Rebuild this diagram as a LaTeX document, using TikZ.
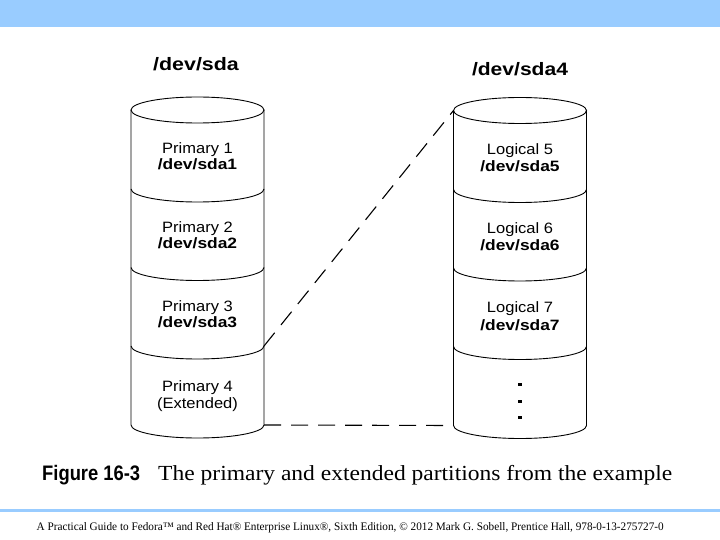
\documentclass[tikz,border=0pt]{standalone}
\usepackage{fontspec}
\setmainfont{Liberation Serif}
\newfontfamily\lsans{Liberation Sans}
\usepackage{graphicx}
\definecolor{band}{HTML}{99CCFF}
\newcommand{\regw}[1]{\scalebox{1.1}[1]{#1}}
\newcommand{\boldw}[1]{\scalebox{1.16}[1]{\bfseries #1}}
\tikzset{
  cylline/.style={draw=black, line width=0.9bp},
  lbl/.style={font=\lsans\fontsize{15bp}{16bp}\selectfont, anchor=base, inner sep=0pt},
  ttl/.style={font=\lsans\bfseries\fontsize{18bp}{20bp}\selectfont, anchor=base, inner sep=0pt},
  link/.style={draw=black, line width=1.1bp, dash pattern=on 17bp off 10bp},
  dotmark/.style={fill=black},
  pics/cyl/.style={code={
    \draw[cylline] (-66.5,0) -- (-66.5,315)
      arc[start angle=180, end angle=360, x radius=66.5bp, y radius=13bp] -- (66.5,0);
    \draw[cylline] (0,0) ellipse [x radius=66.5bp, y radius=13bp];
    \foreach \d in {79,157.5,236}
      \draw[cylline] (-66.5,\d) arc[start angle=180, end angle=360, x radius=66.5bp, y radius=13bp];
    \coordinate (-tl) at (-66.5,0);
    \coordinate (-d3r) at (66.5,236);
    \coordinate (-br) at (66.5,315);
    \coordinate (-bl) at (-66.5,315);
  }}
}
\begin{document}
\begin{tikzpicture}[x=1bp,y=-1bp]
\useasboundingbox (0,0) rectangle (720,540);
\fill[white] (0,0) rectangle (720,540);
\fill[band] (0,0) rectangle (720,27.3);
\draw[band, line width=2.5bp] (0,510.5) -- (720,510.5);

% cylinders
\pic (A) at (197.5,110) {cyl};
\pic (B) at (520,110.5) {cyl};

% titles
\node[ttl] (t1) at (196,71) {\scalebox{1.19}[1]{/dev/sda}};
\node[ttl] (t2) at (520,76) {\scalebox{1.17}[1]{/dev/sda4}};

% left labels
\node[lbl] (p1) at (197.5,154) {\regw{Primary 1}};
\node[lbl] (s1) at (197.5,170) {\boldw{/dev/sda1}};
\node[lbl] (p2) at (197.5,232.5) {\regw{Primary 2}};
\node[lbl] (s2) at (197.5,248.5) {\boldw{/dev/sda2}};
\node[lbl] (p3) at (197.5,311) {\regw{Primary 3}};
\node[lbl] (s3) at (197.5,327) {\boldw{/dev/sda3}};
\node[lbl] (p4) at (197.5,391) {\regw{Primary 4}};
\node[lbl] (s4) at (197.5,408) {\regw{(Extended)}};

% right labels
\node[lbl] (l5) at (520,155) {\regw{Logical 5}};
\node[lbl] (q5) at (520,172) {\boldw{/dev/sda5}};
\node[lbl] (l6) at (520,233.5) {\regw{Logical 6}};
\node[lbl] (q6) at (520,250.5) {\boldw{/dev/sda6}};
\node[lbl] (l7) at (520,312.5) {\regw{Logical 7}};
\node[lbl] (q7) at (520,330) {\boldw{/dev/sda7}};

% vertical ellipsis
\fill[dotmark] (518.2,382.5) rectangle +(3.6,3.4);
\fill[dotmark] (518.2,399.5) rectangle +(3.6,3.4);
\fill[dotmark] (518.2,415.5) rectangle +(3.6,3.4);

% dashed connectors
\draw[link] (A-d3r) -- (B-tl);
\draw[link] (A-br) -- (B-bl);

% caption
\node[anchor=base west, inner sep=0pt] (fig) at (42,480)
  {\lsans\bfseries\fontsize{21bp}{22bp}\selectfont\resizebox{98bp}{\height}{Figure 16-3}};
\node[anchor=base west, inner sep=0pt] (cap) at (158,480)
  {\fontsize{21.5bp}{22bp}\selectfont\resizebox{514bp}{\height}{The primary and extended partitions from the example}};

% footer
\node[anchor=base west, inner sep=0pt] (foot) at (36.5,530)
  {\fontsize{11.5bp}{12bp}\selectfont\resizebox{627bp}{\height}{A Practical Guide to Fedora™ and Red Hat® Enterprise Linux®, Sixth Edition, © 2012 Mark G. Sobell, Prentice Hall, 978-0-13-275727-0}};
\end{tikzpicture}
\end{document}
